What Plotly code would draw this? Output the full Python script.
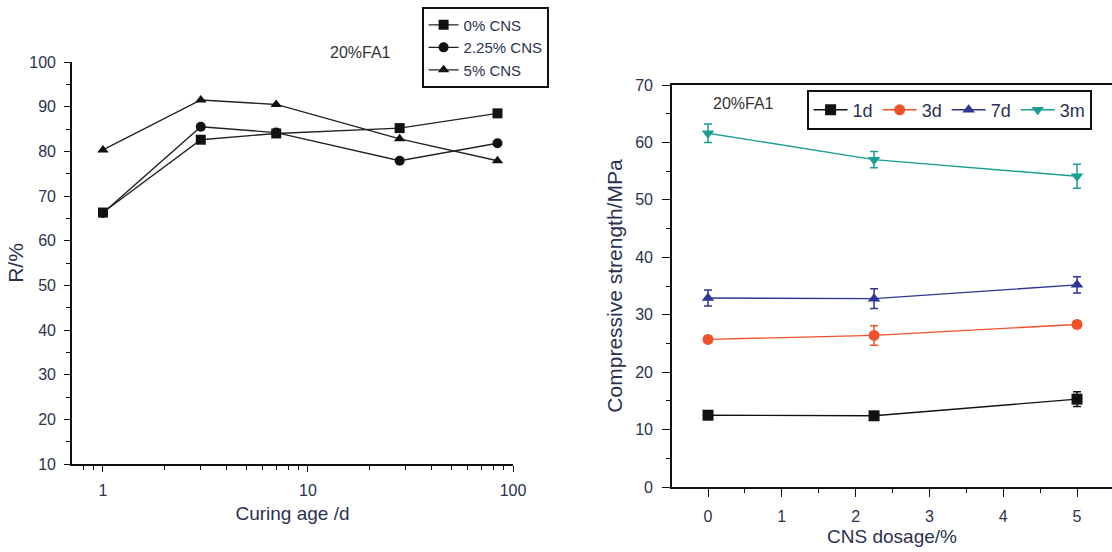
import plotly.graph_objects as go

# ---- Residual strength ratio vs curing age (20%FA1) ----
curing_age = [1, 3, 7, 28, 84]
r_0cns = [66.3, 82.6, 84.0, 85.2, 88.5]
r_225cns = [66.2, 85.5, 84.2, 77.9, 81.8]
r_5cns = [80.3, 91.5, 90.5, 82.8, 77.9]

# ---- Compressive strength vs CNS dosage ----
cns_dosage = [0, 2.25, 5]
cs_1d = [12.5, 12.4, 15.3]
cs_1d_err = [0.5, 0.4, 1.3]
cs_3d = [25.7, 26.4, 28.3]
cs_3d_err = [0.5, 1.7, 0.6]
cs_7d = [32.9, 32.8, 35.2]
cs_7d_err = [1.4, 1.7, 1.4]
cs_3m = [61.6, 57.0, 54.1]
cs_3m_err = [1.6, 1.4, 2.1]

FONT = "Liberation Sans, Arial, sans-serif"
TEXT_COLOR = "#2b3250"
W, H = 1112, 552

fig = go.Figure()

left_series = [
    ("0% CNS", r_0cns, "square"),
    ("2.25% CNS", r_225cns, "circle"),
    ("5% CNS", r_5cns, "triangle-up"),
]
for name, ys, sym in left_series:
    fig.add_trace(go.Scatter(
        x=curing_age, y=ys, name=name, mode="lines+markers",
        line=dict(color="#222222", width=1.4),
        marker=dict(symbol=sym, size=10, color="#111111"),
        xaxis="x", yaxis="y", legend="legend",
    ))

right_series = [
    ("1d", cs_1d, cs_1d_err, "square", "#111111"),
    ("3d", cs_3d, cs_3d_err, "circle", "#f0522a"),
    ("7d", cs_7d, cs_7d_err, "triangle-up", "#2e3592"),
    ("3m", cs_3m, cs_3m_err, "triangle-down", "#1b9e94"),
]
for name, ys, err, sym, col in right_series:
    fig.add_trace(go.Scatter(
        x=cns_dosage, y=ys, name=name, mode="lines+markers",
        line=dict(color=col, width=1.4),
        marker=dict(symbol=sym, size=11, color=col),
        error_y=dict(type="data", array=err, visible=True, color=col,
                     thickness=1.5, width=4),
        xaxis="x2", yaxis="y2", legend="legend2",
    ))

def px_x(p):
    return p / W

def px_y(p):
    return 1 - p / H

axis_common = dict(
    automargin=False,
    showline=True, linecolor="#111111", linewidth=1.6,
    ticks="outside", tickcolor="#111111", tickwidth=1.3,
    showgrid=False, zeroline=False,
    tickfont=dict(family=FONT, size=16, color=TEXT_COLOR),
)
minor_common = dict(ticks="outside", ticklen=4, tickcolor="#111111", tickwidth=1.3)

fig.update_layout(
    width=W, height=H,
    margin=dict(l=0, r=0, t=0, b=0, autoexpand=False),
    paper_bgcolor="white", plot_bgcolor="white",
    font=dict(family=FONT, color=TEXT_COLOR),
    showlegend=True,
    xaxis=dict(
        domain=[px_x(72), px_x(513)], anchor="y",
        type="log", range=[-0.151, 2.0],
        tickvals=[1, 10, 100], ticktext=["1", "10", "100"], ticklen=6,
        ticklabelstandoff=5,
        minor=dict(tickvals=[0.7, 0.8, 0.9, 2, 3, 4, 5, 6, 7, 8, 9,
                             20, 30, 40, 50, 60, 70, 80, 90], **minor_common),
        title=dict(text="Curing age /d", font=dict(family=FONT, size=19, color=TEXT_COLOR),
                   standoff=9),
        **axis_common,
    ),
    yaxis=dict(
        domain=[px_y(464), px_y(62)], anchor="x",
        range=[10, 100], tickvals=list(range(10, 101, 10)), ticklen=6,
        ticklabelstandoff=5,
        minor=dict(dtick=5, **minor_common),
        title=dict(text="R/%", font=dict(family=FONT, size=21, color=TEXT_COLOR),
                   standoff=0),
        **axis_common,
    ),
    xaxis2=dict(
        domain=[px_x(672), 1.0], anchor="y2",
        range=[-0.488, 5.474], tickvals=[0, 1, 2, 3, 4, 5], ticklen=8,
        ticklabelstandoff=6,
        minor=dict(tickvals=[-0.5, 0.5, 1.5, 2.5, 3.5, 4.5, 5.5], **minor_common),
        mirror=True,
        title=dict(text="CNS dosage/%", font=dict(family=FONT, size=19, color=TEXT_COLOR),
                   standoff=6),
        **axis_common,
    ),
    yaxis2=dict(
        domain=[px_y(487), px_y(85)], anchor="x2",
        range=[0, 70], tickvals=list(range(0, 71, 10)), ticklen=8,
        ticklabelstandoff=6,
        minor=dict(dtick=5, **minor_common),
        title=dict(text="Compressive strength/MPa",
                   font=dict(family=FONT, size=21, color=TEXT_COLOR), standoff=7),
        **axis_common,
    ),
    legend=dict(
        x=px_x(422), y=px_y(7), xanchor="left", yanchor="top",
        bordercolor="#111111", borderwidth=1.6, bgcolor="white",
        font=dict(family=FONT, size=15, color=TEXT_COLOR),
        tracegroupgap=0, itemwidth=30,
    ),
    legend2=dict(
        orientation="h",
        x=px_x(807), y=px_y(90), xanchor="left", yanchor="top",
        bordercolor="#111111", borderwidth=1.6, bgcolor="white",
        font=dict(family=FONT, size=18, color=TEXT_COLOR),
        itemwidth=34,
    ),
    annotations=[
        dict(text="20%FA1", x=px_x(360), y=px_y(53), xref="paper", yref="paper",
             xanchor="center", yanchor="middle",
             showarrow=False, font=dict(family=FONT, size=16, color="#333333")),
        dict(text="20%FA1", x=px_x(743), y=px_y(103), xref="paper", yref="paper",
             xanchor="center", yanchor="middle",
             showarrow=False, font=dict(family=FONT, size=16, color="#333333")),
    ],
)

fig.write_html("out.html")
